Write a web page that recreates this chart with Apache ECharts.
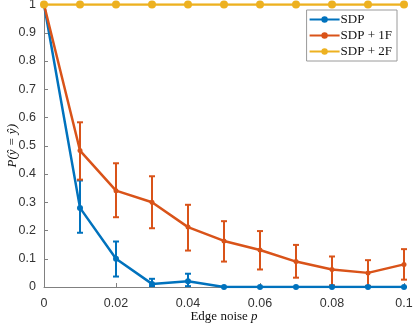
<!DOCTYPE html>
<html>
<head>
<meta charset="utf-8">
<script src="https://cdn.jsdelivr.net/npm/echarts@6/dist/echarts.min.js"></script>
<style>html,body{margin:0;padding:0;background:#fff}#c{width:415px;height:327px}</style>
</head>
<body>
<div id="c"></div>
<script>
const noise = [0, 0.01, 0.02, 0.03, 0.04, 0.05, 0.06, 0.07, 0.08, 0.09, 0.1];
const sdp = [1, 0.28, 0.10, 0.011, 0.02, 0, 0, 0, 0, 0, 0];
const sdpLow = [1, 0.192, 0.037, 0.003, 0.003, 0, 0, 0, 0, 0, 0];
const sdpHigh = [1, 0.377, 0.161, 0.029, 0.047, 0, 0, 0, 0, 0, 0];
const sdp1F = [1, 0.483, 0.341, 0.30, 0.212, 0.163, 0.131, 0.09, 0.062, 0.05, 0.08];
const sdp1FLow = [1, 0.38, 0.247, 0.208, 0.129, 0.09, 0.062, 0.033, 0.006, 0.004, 0.026];
const sdp1FHigh = [1, 0.583, 0.438, 0.392, 0.291, 0.233, 0.198, 0.149, 0.108, 0.095, 0.134];
const sdp2F = [1, 1, 1, 1, 1, 1, 1, 1, 1, 1, 1];
const yTicks = ['0', '0.1', '0.2', '0.3', '0.4', '0.5', '0.6', '0.7', '0.8', '0.9', '1'];
const xTicks = ['0', '0.02', '0.04', '0.06', '0.08', '0.1'];
const names = ['SDP', 'SDP + 1F', 'SDP + 2F'];
const colors = ['#0072BD', '#D95319', '#EDB120'];

function pairs(ys) { return noise.map((x, i) => [x, ys[i]]); }
function errData(lo, hi) { return noise.map((x, i) => [x, lo[i], hi[i]]); }
function errSeries(lo, hi, color) {
  return {
    type: 'custom',
    data: errData(lo, hi),
    encode: { x: 0, y: [1, 2] },
    silent: true,
    z: 3,
    renderItem: function (params, api) {
      const x = api.value(0);
      const a = api.coord([x, api.value(1)]);
      const b = api.coord([x, api.value(2)]);
      const w = 3;
      const st = { stroke: color, lineWidth: 2 };
      return {
        type: 'group',
        children: [
          { type: 'line', shape: { x1: a[0], y1: a[1], x2: b[0], y2: b[1] }, style: st },
          { type: 'line', shape: { x1: a[0] - w, y1: a[1], x2: a[0] + w, y2: a[1] }, style: st },
          { type: 'line', shape: { x1: b[0] - w, y1: b[1], x2: b[0] + w, y2: b[1] }, style: st }
        ]
      };
    }
  };
}
function lineSeries(name, ys, color, size) {
  return {
    name: name, type: 'line', data: pairs(ys),
    symbol: 'circle', symbolSize: size, showSymbol: true,
    lineStyle: { color: color, width: 2.5 },
    itemStyle: { color: color },
    z: 4
  };
}

const chart = echarts.init(document.getElementById('c'), null, { renderer: 'canvas' });
const serif = '"Liberation Serif", "DejaVu Serif", serif';
const sans = '"Liberation Sans", Arial, sans-serif';
const tick = { show: true, inside: true, length: 4, lineStyle: { color: '#808080', width: 1 } };
chart.setOption({
  animation: false,
  backgroundColor: '#fff',
  color: colors,
  grid: { left: 44, right: 11, top: 4.5, bottom: 40, containLabel: false, outerBoundsMode: 'none' },
  legend: {
    data: names,
    orient: 'vertical',
    right: 18, top: 10,
    itemWidth: 30, itemHeight: 8, itemGap: 3,
    backgroundColor: '#fff',
    borderColor: '#9a9a9a', borderWidth: 1, borderRadius: 0,
    padding: [3, 5, 3, 2],
    textStyle: { fontFamily: serif, fontSize: 13, color: '#111', padding: [0, 0, 0, -4] }
  },
  xAxis: {
    type: 'value', min: 0, max: 0.1, interval: 0.02,
    axisLine: { show: true, lineStyle: { color: '#808080', width: 1 } },
    axisTick: tick,
    splitLine: { show: false },
    axisLabel: {
      fontFamily: sans, fontSize: 12.5, color: '#333', margin: 10,
      formatter: function (v) { return xTicks[Math.round(v / 0.02)]; }
    },
    name: 'Edge noise {i|p}', nameLocation: 'middle', nameGap: 23, nameMoveOverlap: false,
    nameTextStyle: { fontFamily: serif, fontSize: 13, color: '#111', rich: { i: { fontStyle: 'italic', fontFamily: serif, fontSize: 13, color: '#111' } } }
  },
  yAxis: {
    type: 'value', min: 0, max: 1, interval: 0.1,
    axisLine: { show: true, lineStyle: { color: '#808080', width: 1 } },
    axisTick: tick,
    splitLine: { show: false },
    axisLabel: {
      fontFamily: sans, fontSize: 12.5, color: '#333', margin: 8,
      formatter: function (v) { return yTicks[Math.round(v * 10)]; }
    },
    name: '{i|P}(ŷ = ŷ)', nameLocation: 'middle', nameGap: 25, nameRotate: 90, nameMoveOverlap: false,
    nameTextStyle: { fontFamily: serif, fontSize: 13, color: '#111', fontStyle: 'italic', rich: { i: { fontStyle: 'italic', fontFamily: serif, fontSize: 13, color: '#111' } } }
  },
  series: [
    errSeries(sdpLow, sdpHigh, colors[0]),
    errSeries(sdp1FLow, sdp1FHigh, colors[1]),
    lineSeries(names[0], sdp, colors[0], 6),
    lineSeries(names[1], sdp1F, colors[1], 5),
    lineSeries(names[2], sdp2F, colors[2], 8)
  ]
});
</script>
</body>
</html>
